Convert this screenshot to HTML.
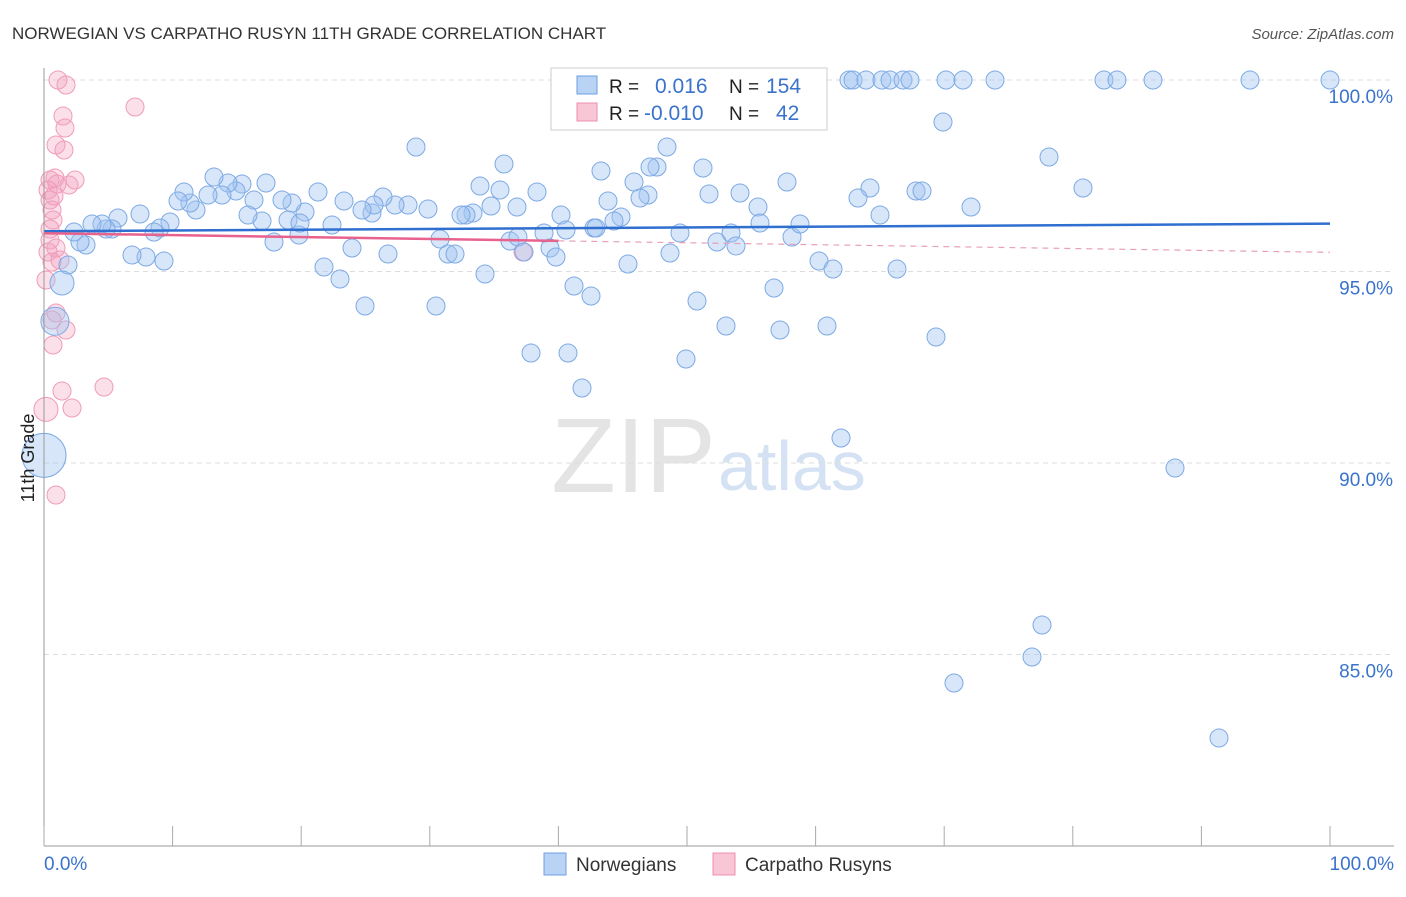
<!DOCTYPE html>
<html><head><meta charset="utf-8"><style>
body{margin:0;background:#fff;font-family:"Liberation Sans",sans-serif;}
svg text{font-family:"Liberation Sans",sans-serif;}
</style></head><body>
<svg id="chart" width="1406" height="892" xmlns="http://www.w3.org/2000/svg">
<text x="12" y="39" font-size="17" fill="#333">NORWEGIAN VS CARPATHO RUSYN 11TH GRADE CORRELATION CHART</text>
<text x="1394" y="39" font-size="15" fill="#555" font-style="italic" text-anchor="end">Source: ZipAtlas.com</text>
<text x="716" y="492" font-size="106" fill="#e4e4e4" text-anchor="end" font-family="Liberation Serif">ZIP</text>
<text x="718" y="490" font-size="70" fill="#d4e2f4">atlas</text>
<g id="grid"></g>
<g id="pts"></g>
<g id="trend"></g>
<line x1="44" y1="68" x2="44" y2="846" stroke="#999"/>
<line x1="44" y1="846" x2="1394" y2="846" stroke="#999"/>
<g id="axes"></g>
<text transform="translate(34,458) rotate(-90)" font-size="18" fill="#222" text-anchor="middle">11th Grade</text>
<g>
<rect x="551" y="68" width="276" height="62" fill="#fff" stroke="#ccc"/>
<rect x="577" y="76" width="20" height="18" fill="#b9d3f5" stroke="#6d9ee0"/>
<rect x="577" y="103" width="20" height="18" fill="#f9c6d6" stroke="#ec8fae"/>
<text x="609" y="93" font-size="19" fill="#222">R =</text><text x="655" y="93" font-size="21" fill="#3a73cc">0.016</text>
<text x="729" y="93" font-size="19" fill="#222">N =</text><text x="766" y="93" font-size="21" fill="#3a73cc">154</text>
<text x="609" y="120" font-size="19" fill="#222">R =</text><text x="644" y="120" font-size="21" fill="#3a73cc">-0.010</text>
<text x="729" y="120" font-size="19" fill="#222">N =</text><text x="776" y="120" font-size="21" fill="#3a73cc">42</text>
</g>
<g><rect x="544" y="853" width="22" height="22" fill="#b9d3f5" stroke="#6d9ee0"/><text x="576" y="871" font-size="19" fill="#333">Norwegians</text></g>
<g><rect x="713" y="853" width="22" height="22" fill="#f9c6d6" stroke="#ec8fae"/><text x="745" y="871" font-size="19" fill="#333">Carpatho Rusyns</text></g>
</svg>
<script>
const yTicks=[100,95,90,85];
const blue=[[817,80],[849,80],[853,80],[866,80],[882,80],[890,80],[903,80],[910,80],[946,80],[963,80],[995,80],[1104,80],[1117,80],[1153,80],[1250,80],[1330,80],[943,122],[1049,157],[1083,188],[916,191],[922,191],[870,188],[858,198],[880,215],[971,207],[787,182],[758,207],[740,193],[709,194],[703,168],[667,147],[657,167],[650,167],[648,195],[640,198],[634,182],[621,217],[614,221],[601,171],[608,201],[594,228],[561,215],[537,192],[517,207],[504,164],[500,190],[480,186],[491,206],[473,213],[466,215],[461,215],[416,147],[428,209],[408,205],[395,205],[383,197],[372,213],[374,205],[362,210],[344,201],[332,225],[318,192],[305,212],[299,235],[292,203],[288,220],[282,200],[266,183],[262,221],[254,200],[248,215],[242,184],[236,191],[228,183],[222,195],[214,177],[208,195],[196,210],[190,203],[184,192],[178,201],[170,222],[160,228],[154,232],[146,257],[164,261],[132,255],[140,214],[118,218],[112,229],[106,229],[102,224],[92,224],[86,245],[80,242],[74,232],[68,265],[274,242],[300,223],[324,267],[340,279],[352,248],[365,306],[388,254],[436,306],[440,239],[448,254],[455,254],[485,274],[510,241],[518,237],[524,252],[544,233],[550,248],[556,257],[566,230],[574,286],[582,388],[591,296],[596,228],[628,264],[531,353],[568,353],[670,253],[680,233],[697,301],[686,359],[717,242],[726,326],[731,233],[736,246],[760,223],[774,288],[780,330],[792,237],[800,224],[819,261],[827,326],[833,269],[841,438],[897,269],[936,337],[1175,468],[1042,625],[1032,657],[954,683],[1219,738],[768,100],[809,80]].map(p=>[(p[0]-44)/12.86,100-(p[1]-80)/38.3]);
const blueBig=[[1.4,94.7,12],[0.85,93.7,14],[0,90.2,22]];
const pink=[[58,80],[66,85],[135,107],[63,116],[65,128],[56,145],[64,150],[50,180],[55,178],[57,184],[69,185],[75,180],[50,200],[52,210],[53,220],[50,229],[50,240],[56,248],[48,252],[52,262],[46,280],[56,313],[52,320],[66,330],[53,345],[104,387],[62,391],[72,408],[56,495],[523,252],[48,190],[54,196],[60,260]].map(p=>[(p[0]-44)/12.86,100-(p[1]-80)/38.3]);
const pinkBig=[[0.15,91.4,12]];
const blueTrend=[96.05,96.25];
const pinkTrend=[96.0,95.5];
const X=v=>44+v*12.86, Y=v=>80+(100-v)*38.3;
const NS='http://www.w3.org/2000/svg';
function mk(t,a,p){const e=document.createElementNS(NS,t);for(const k in a)e.setAttribute(k,a[k]);p.appendChild(e);return e;}
const g=document.getElementById('grid'),ax=document.getElementById('axes');
yTicks.forEach(t=>{
 const l=mk('line',{x1:44,x2:1394,y1:Y(t),y2:Y(t),stroke:'#ddd','stroke-dasharray':'5,4'},g);
 
 
 const tx=mk('text',{x:1393,y:Y(t)+23,'font-size':19,fill:'#3a73cc','text-anchor':'end'},ax);
 tx.textContent=t.toFixed(1)+'%';
 
 
});
for(let i=0;i<=10;i++){
 const l=mk('line',{x1:X(i*10),x2:X(i*10),y1:826,y2:846,stroke:'#aaa'},ax);
 
 
}
[[0,'0.0%',44,'start'],[100,'100.0%',1394,'end']].forEach(d=>{
 const t=mk('text',{x:d[2],y:870,'font-size':19,fill:'#3a73cc','text-anchor':d[3]},ax);t.textContent=d[1];
 
 
});
const P=document.getElementById('pts');
pink.concat(pinkBig).forEach(p=>{
 const c=mk('circle',{cx:X(p[0]),cy:Y(p[1]),r:p[2]||9,fill:'rgba(244,160,190,0.33)',stroke:'#ef9cb8','stroke-width':1},P);
 
 
});
blue.concat(blueBig).forEach(p=>{
 const c=mk('circle',{cx:X(p[0]),cy:Y(p[1]),r:p[2]||9,fill:'rgba(160,196,240,0.42)',stroke:'#7eaae4','stroke-width':1},P);
 
 
});
const T=document.getElementById('trend');
const bl=mk('line',{x1:X(0),y1:Y(blueTrend[0]),x2:X(100),y2:Y(blueTrend[1]),stroke:'#2f6fd0','stroke-width':2.5},T);


const pm=pinkTrend[0]+(pinkTrend[1]-pinkTrend[0])*0.4;
const pl=mk('line',{x1:X(0),y1:Y(pinkTrend[0]),x2:X(40),y2:Y(pm),stroke:'#e8628e','stroke-width':2.5},T);


const pd=mk('line',{x1:X(40),y1:Y(pm),x2:X(100),y2:Y(pinkTrend[1]),stroke:'#e8a0b8','stroke-width':1.2,'stroke-dasharray':'6,5'},T);


</script>
</body></html>
